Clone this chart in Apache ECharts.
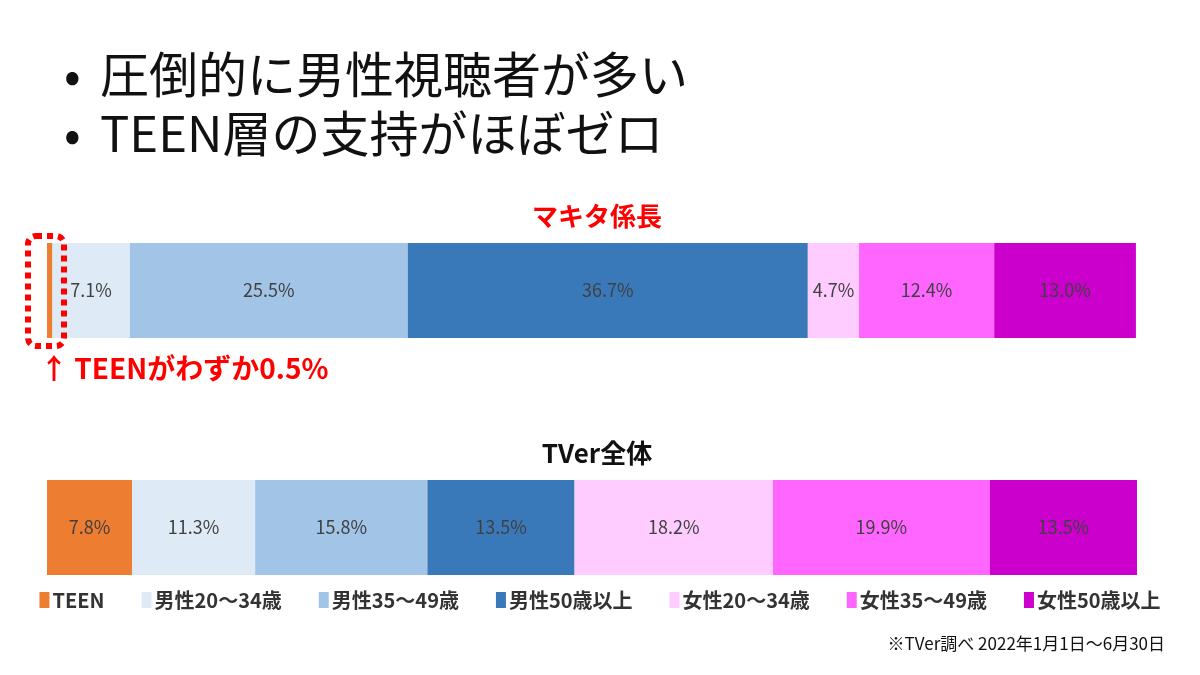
<!DOCTYPE html>
<html lang="ja">
<head>
    <meta charset="UTF-8" />
    <title>TVer 視聴者構成</title>
    <style>
        html, body { margin: 0; padding: 0; background: #fff; }
        #chartBox { width: 1200px; height: 675px; }
    </style>
</head>
<body>
    <div id="chartBox"></div>
    <script src="https://cdn.jsdelivr.net/npm/echarts@6/dist/echarts.min.js"></script>
    <script type="text/javascript">
        // 対象（上から順）
        var categories = ['マキタ係長', 'TVer全体'];
        // 年齢層
        var segments = ['TEEN', '男性20～34歳', '男性35～49歳', '男性50歳以上', '女性20～34歳', '女性35～49歳', '女性50歳以上'];
        var segColors = ['#ED7D31', '#DEEBF7', '#A2C4E6', '#3A79B9', '#FFCCFF', '#FF66FF', '#CC00CC'];
        // 構成比(%)
        var makita = [0.5, 7.1, 25.5, 36.7, 4.7, 12.4, 13.0];
        var tver = [7.8, 11.3, 15.8, 13.5, 18.2, 19.9, 13.5];

        var jpFont = '"Noto Sans CJK JP", "Noto Sans", sans-serif';
        var chart = echarts.init(document.getElementById('chartBox'));

        var series = segments.map(function (name, i) {
            return {
                name: name,
                type: 'bar',
                stack: 'total',
                barWidth: 95,
                itemStyle: { color: segColors[i] },
                label: {
                    show: true,
                    color: '#404040',
                    fontSize: 18,
                    fontFamily: jpFont,
                    formatter: function (p) { return p.value.toFixed(1) + '%'; }
                },
                emphasis: { disabled: true },
                data: [makita[i], tver[i]].map(function (v) {
                    // 細すぎる区間はラベルを出さない
                    return v < 1 ? { value: v, label: { show: false } } : v;
                })
            };
        });

        var option = {
            backgroundColor: '#fff',
            animation: false,
            textStyle: { fontFamily: jpFont },
            title: [
                {
                    text: 'マキタ係長', left: 592, top: 198, textAlign: 'center',
                    textStyle: { color: '#FF0000', fontSize: 26, fontWeight: 'bold', fontFamily: jpFont }
                },
                {
                    text: 'TVer全体', left: 592, top: 435, textAlign: 'center',
                    textStyle: { color: '#111', fontSize: 26, fontWeight: 'bold', fontFamily: jpFont }
                }
            ],
            grid: { left: 47, right: 63, top: 172, height: 474 },
            xAxis: { type: 'value', min: 0, max: 100, show: false },
            yAxis: {
                type: 'category', data: categories, inverse: true,
                axisLine: { show: false }, axisTick: { show: false }, axisLabel: { show: false }
            },
            legend: {
                top: 585, left: 'center',
                icon: 'rect', itemWidth: 10, itemHeight: 16, itemGap: 37,
                selectedMode: false,
                textStyle: { fontSize: 20, fontWeight: 'bold', color: '#333', fontFamily: jpFont, padding: [0, 0, 0, -2] },
                data: segments
            },
            graphic: [
                { type: 'text', left: 64, top: 50, style: { text: '•', fontSize: 49, fill: '#111', fontFamily: jpFont } },
                { type: 'text', left: 100, top: 50, style: { text: '圧倒的に男性視聴者が多い', fontSize: 49, fill: '#111', fontFamily: jpFont } },
                { type: 'text', left: 64, top: 109, style: { text: '•', fontSize: 49, fill: '#111', fontFamily: jpFont } },
                { type: 'text', left: 100, top: 109, style: { text: 'TEEN層の支持がほぼゼロ', fontSize: 49, fill: '#111', fontFamily: jpFont } },
                {
                    type: 'rect', z: 10,
                    shape: { x: 28, y: 236, width: 36, height: 110, r: 8 },
                    style: { fill: 'none', stroke: '#FF0000', lineWidth: 6, lineDash: [6, 5] }
                },
                {
                    type: 'text', left: 40, top: 354,
                    style: { text: '↑ TEENがわずか0.5%', fontSize: 28, fontWeight: 'bold', fill: '#FF0000', fontFamily: jpFont }
                },
                {
                    type: 'text', right: 35, top: 635,
                    style: { text: '※TVer調べ 2022年1月1日～6月30日', fontSize: 17, fill: '#111', fontFamily: jpFont }
                }
            ],
            series: series
        };

        chart.setOption(option);
    </script>
</body>
</html>
